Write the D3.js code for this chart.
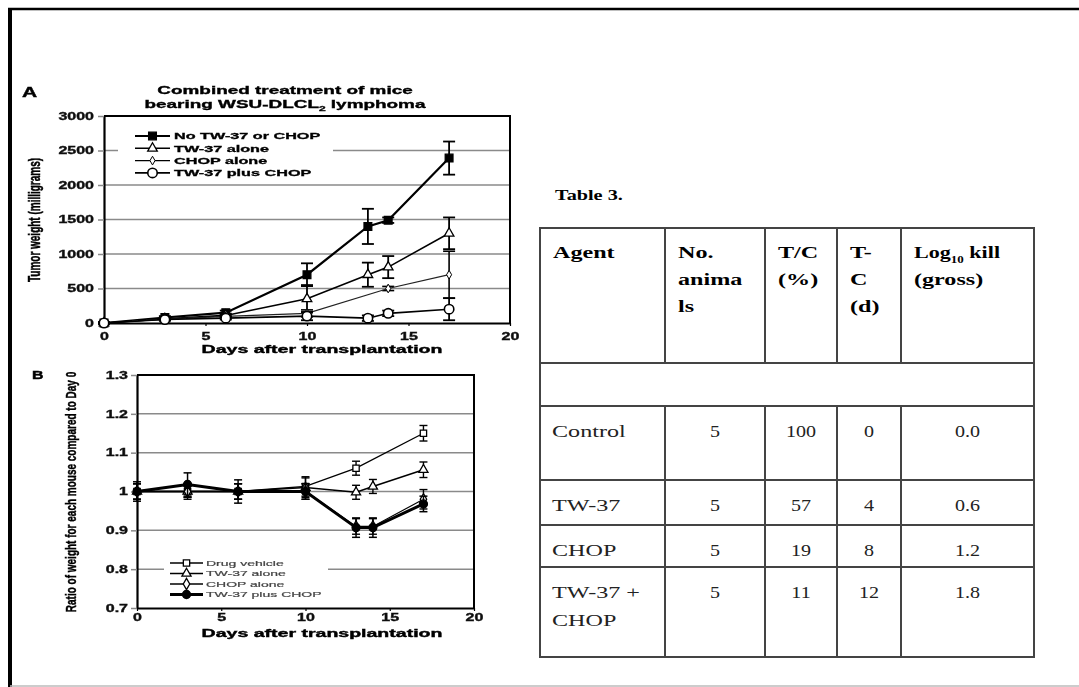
<!DOCTYPE html>
<html>
<head>
<meta charset="utf-8">
<script src="https://cdn.jsdelivr.net/npm/d3@7"></script>
<style>
  body { margin: 0; background: #fff; }
  svg { display: block; }
</style>
</head>
<body>
<svg id="fig" width="1079" height="687"></svg>
<script>
// ---------- Panel A: tumor weight (mg) ----------
const tumorDays = [0, 3, 6, 10, 13, 14, 17];
const tumorNoTreatment = [0, 80, 150, 700, 1400, 1490, 2390];
const tumorNoTreatmentErr = [10, 20, 30, 165, 255, 40, 240];
const tumorTW37 = [0, 60, 110, 350, 700, 810, 1300];
const tumorTW37Err = [10, 15, 25, 200, 175, 160, 230];
const tumorCHOPDays = [0, 3, 6, 10, 14, 17];
const tumorCHOP = [0, 55, 95, 140, 500, 700];
const tumorCHOPErr = [10, 15, 20, 50, 30, 340];
const tumorCombo = [0, 50, 70, 100, 70, 140, 200];
const tumorComboErr = [10, 15, 20, 60, 40, 40, 160];

const tumorYTicks = [0, 500, 1000, 1500, 2000, 2500, 3000];
const tumorYLabels = ["0", "500", "1000", "1500", "2000", "2500", "3000"];
const dayTicks = [0, 5, 10, 15, 20];
const dayLabels = ["0", "5", "10", "15", "20"];

// ---------- Panel B: body weight ratio ----------
const weightDays = [0, 3, 6, 10, 13, 14, 17];
const weightVehicleDays = [0, 3, 6, 10, 13, 17];
const weightVehicle = [1.0, 1.0, 1.0, 1.013, 1.06, 1.15];
const weightVehicleErr = [0.02, 0.015, 0.02, 0.025, 0.018, 0.02];
const weightTW37 = [1.0, 1.0, 1.0, 1.01, 0.998, 1.013, 1.056];
const weightTW37Err = [0.02, 0.015, 0.02, 0.025, 0.018, 0.018, 0.02];
const weightCHOP = [1.0, 1.0, 1.0, 1.0, 0.91, 0.91, 0.98];
const weightCHOPErr = [0.02, 0.02, 0.02, 0.02, 0.02, 0.02, 0.025];
const weightCombo = [1.0, 1.018, 1.0, 1.0, 0.907, 0.907, 0.968];
const weightComboErr = [0.025, 0.03, 0.03, 0.02, 0.025, 0.025, 0.02];

const weightYTicks = [0.7, 0.8, 0.9, 1.0, 1.1, 1.2, 1.3];
const weightYLabels = ["0.7", "0.8", "0.9", "1", "1.1", "1.2", "1.3"];

// ---------- Table 3 ----------
const tableHeaders = [["Agent"], ["No.", "anima", "ls"], ["T/C", "(%)"], ["T-", "C", "(d)"], ["Log|10| kill", "(gross)"]];
const tableAgents = [["Control"], ["TW-37"], ["CHOP"], ["TW-37 +", "CHOP"]];
const tableAnimals = ["5", "5", "5", "5"];
const tableTC = ["100", "57", "19", "11"];
const tableTminusC = ["0", "4", "8", "12"];
const tableLogKill = ["0.0", "0.6", "1.2", "1.8"];

const SANS = "'Liberation Sans', Arial, Helvetica, sans-serif";
const SERIF = "'Liberation Serif', 'Times New Roman', serif";
const svg = d3.select("#fig");

svg.append("rect").attr("width", 1079).attr("height", 687).attr("fill", "#fff");

// soft rendering for the two graph panels
svg.append("defs").append("filter").attr("id", "soft")
  .attr("x", "-5%").attr("y", "-5%").attr("width", "110%").attr("height", "110%")
  .append("feGaussianBlur").attr("stdDeviation", 0.45);

const charts = svg.append("g").attr("filter", "url(#soft)");

// Text helper: glyphs are drawn wide (horizontal stretch k)
function label(parent, x, y, str, o = {}) {
  const k = o.k ?? 1.6;
  const tf = o.rot
    ? `translate(${x},${y}) rotate(${o.rot}) scale(1,${k})`
    : `translate(${x},${y}) scale(${k},1)`;
  const t = parent.append("text")
    .attr("transform", tf)
    .attr("text-anchor", o.anchor || "start")
    .attr("font-family", o.family || SANS)
    .attr("font-size", o.size || 10)
    .attr("font-weight", o.weight || "bold")
    .attr("fill", o.fill || "#000")
    .text(str);
  if (o.heavy) t.attr("stroke", o.fill || "#000").attr("stroke-width", o.heavy);
  return t;
}

function symbolPath(type, size) {
  const t = { square: d3.symbolSquare, triangle: d3.symbolTriangle, diamond: d3.symbolDiamond, circle: d3.symbolCircle }[type];
  return d3.symbol().type(t).size(size)();
}

function drawMarker(parent, m, x, y) {
  parent.append("path")
    .attr("d", symbolPath(m.shape, m.size))
    .attr("transform", `translate(${x},${y})`)
    .attr("fill", m.filled ? "#000" : "#fff")
    .attr("stroke", "#000")
    .attr("stroke-width", m.sw || 1.3);
}

// Generic line chart panel with error bars and a legend
function panel(p) {
  const g = charts.append("g");
  const x = d3.scaleLinear().domain([0, 20]).range(p.xRange);
  const y = d3.scaleLinear().domain(p.yDomain).range(p.yRange);
  const [x0, x1] = p.xRange, [yb, yt] = p.yRange;

  // horizontal gridlines
  g.append("g").selectAll("line").data(p.yTicks.slice(1, -1)).join("line")
    .attr("x1", x0).attr("x2", x1)
    .attr("y1", d => y(d)).attr("y2", d => y(d))
    .attr("stroke", "#8a8a8a").attr("stroke-width", 1.5);

  // y axis
  const ay = g.append("g").attr("transform", `translate(${x0},0)`)
    .call(d3.axisLeft(y).tickValues(p.yTicks).tickFormat((d, i) => p.yLabels[i]).tickSize(6).tickSizeOuter(0));
  ay.select(".domain").attr("stroke", "#000").attr("stroke-width", 2.2);
  ay.selectAll(".tick line").attr("stroke", "#8a8a8a").attr("stroke-width", 1.5);
  ay.selectAll(".tick text")
    .attr("x", -p.yLabelGap / p.k).attr("transform", `scale(${p.k},1)`)
    .attr("font-family", SANS).attr("font-size", 10).attr("font-weight", "bold")
    .attr("fill", "#111").attr("stroke", "#111").attr("stroke-width", 0.35);

  // x axis
  const ax = g.append("g").attr("transform", `translate(0,${yb})`)
    .call(d3.axisBottom(x).tickValues(dayTicks).tickFormat((d, i) => dayLabels[i]).tickSize(3).tickSizeOuter(0));
  ax.select(".domain").attr("stroke", "#000").attr("stroke-width", 2.2);
  ax.selectAll(".tick line").attr("stroke", "#000").attr("stroke-width", 1.2);
  ax.selectAll(".tick text")
    .attr("y", p.xLabelGap).attr("transform", `scale(${p.k},1)`)
    .attr("font-family", SANS).attr("font-size", 10).attr("font-weight", "bold")
    .attr("fill", "#111").attr("stroke", "#111").attr("stroke-width", 0.35);

  // top and right frame
  g.append("path").attr("d", `M${x0},${yt}H${x1}V${yb}`)
    .attr("fill", "none").attr("stroke", "#000").attr("stroke-width", 2);

  // legend
  const L = p.legend;
  g.append("rect").attr("x", L.box[0]).attr("y", L.box[1]).attr("width", L.box[2]).attr("height", L.box[3]).attr("fill", "#fff");
  p.series.forEach((s, i) => {
    const ly = L.y0 + i * L.dy;
    g.append("line").attr("x1", L.x0).attr("x2", L.x1).attr("y1", ly).attr("y2", ly)
      .attr("stroke", "#000").attr("stroke-width", s.lw);
    drawMarker(g, s.marker, (L.x0 + L.x1) / 2, ly);
    label(g, L.tx, ly + L.size * 0.36, s.name, { size: L.size, weight: L.weight, k: L.k, fill: L.fill, heavy: L.heavy });
  });

  // series: error bars, lines, markers
  p.series.forEach(s => {
    const pts = s.days.map((d, i) => ({ d, v: s.values[i], e: s.errors[i] }));
    const eg = g.append("g").attr("stroke", "#000").attr("stroke-width", s.ew);
    pts.forEach(q => {
      const cx = x(q.d), hi = y(q.v + q.e), lo = y(q.v - q.e);
      eg.append("line").attr("x1", cx).attr("x2", cx).attr("y1", hi).attr("y2", lo);
      eg.append("line").attr("x1", cx - p.cap).attr("x2", cx + p.cap).attr("y1", hi).attr("y2", hi);
      eg.append("line").attr("x1", cx - p.cap).attr("x2", cx + p.cap).attr("y1", lo).attr("y2", lo);
    });
    g.append("path").datum(pts)
      .attr("d", d3.line().x(q => x(q.d)).y(q => y(q.v)))
      .attr("fill", "none").attr("stroke", s.color || "#000").attr("stroke-width", s.lw);
    pts.forEach(q => drawMarker(g, s.marker, x(q.d), y(q.v)));
  });
  return { g, x, y };
}

// ---------- Panel A ----------
panel({
  xRange: [104, 510], yDomain: [0, 3000], yRange: [323, 116],
  yTicks: tumorYTicks, yLabels: tumorYLabels, k: 1.6, yLabelGap: 10, xLabelGap: 10, cap: 6,
  legend: { box: [118, 127, 215, 52], x0: 135, x1: 170, y0: 136, dy: 12.3, tx: 174, size: 9, weight: "bold", k: 1.8, fill: "#000", heavy: 0.3 },
  series: [
    { name: "No TW-37 or CHOP", days: tumorDays, values: tumorNoTreatment, errors: tumorNoTreatmentErr, lw: 2.2, ew: 1.8,
      marker: { shape: "square", size: 60, filled: true } },
    { name: "TW-37 alone", days: tumorDays, values: tumorTW37, errors: tumorTW37Err, lw: 1.6, ew: 1.8,
      marker: { shape: "triangle", size: 40, filled: false } },
    { name: "CHOP alone", days: tumorCHOPDays, values: tumorCHOP, errors: tumorCHOPErr, lw: 1.2, ew: 1.6, color: "#222",
      marker: { shape: "diamond", size: 22, filled: false, sw: 1 } },
    { name: "TW-37 plus CHOP", days: tumorDays, values: tumorCombo, errors: tumorComboErr, lw: 1.6, ew: 1.8,
      marker: { shape: "circle", size: 70, filled: false, sw: 1.6 } }
  ]
});

// ---------- Panel B ----------
panel({
  xRange: [137, 474], yDomain: [0.7, 1.3], yRange: [608, 375],
  yTicks: weightYTicks, yLabels: weightYLabels, k: 1.6, yLabelGap: 9, xLabelGap: 6, cap: 4,
  legend: { box: [164, 556, 164, 45], x0: 170, x1: 203, y0: 563, dy: 10.5, tx: 206, size: 8, weight: "normal", k: 1.75, fill: "#444", heavy: 0.2 },
  series: [
    { name: "Drug vehicle", days: weightVehicleDays, values: weightVehicle, errors: weightVehicleErr, lw: 1.3, ew: 1.4,
      marker: { shape: "square", size: 40, filled: false } },
    { name: "TW-37 alone", days: weightDays, values: weightTW37, errors: weightTW37Err, lw: 1.5, ew: 1.4,
      marker: { shape: "triangle", size: 36, filled: false } },
    { name: "CHOP alone", days: weightDays, values: weightCHOP, errors: weightCHOPErr, lw: 1.3, ew: 1.4,
      marker: { shape: "diamond", size: 36, filled: false } },
    { name: "TW-37 plus CHOP", days: weightDays, values: weightCombo, errors: weightComboErr, lw: 3, ew: 1.5,
      marker: { shape: "circle", size: 50, filled: true } }
  ]
});

// Panel titles and axis titles
label(charts, 22, 97, "A", { size: 14, k: 1.5, heavy: 0.4 });
label(charts, 32, 379, "B", { size: 11, k: 1.45, heavy: 0.4 });

label(charts, 285, 94, "Combined treatment of mice", { size: 11, k: 1.72, anchor: "middle", heavy: 0.35 });
const t2 = label(charts, 285, 108, "bearing WSU-DLCL", { size: 11, k: 1.72, anchor: "middle", heavy: 0.35 });
t2.append("tspan").attr("font-size", 7).attr("dy", 3).text("2");
t2.append("tspan").attr("dy", -3).text(" lymphoma");

label(charts, 40, 220, "Tumor weight (milligrams)", { size: 10, k: 1.6, rot: -90, anchor: "middle", heavy: 0.3 });
label(charts, 76, 492, "Ratio of weight for each mouse compared to Day 0", { size: 10, k: 1.5, rot: -90, anchor: "middle", heavy: 0.3 });
label(charts, 322, 353, "Days after transplantation", { size: 11.5, k: 1.7, anchor: "middle", heavy: 0.4 });
label(charts, 322, 637, "Days after transplantation", { size: 11.5, k: 1.7, anchor: "middle", heavy: 0.4 });

// ---------- Table 3 ----------
const T = svg.append("g");
const cols = [540, 665, 765, 837, 901, 1034];
const rows = [228, 363, 406, 480, 525, 567, 657];
const tk = 1.42;
label(T, 555, 200, "Table 3.", { family: SERIF, size: 15, k: 1.35, weight: "bold" });

const grid = T.append("g").attr("stroke", "#444").attr("stroke-width", 2).attr("fill", "none");
grid.append("rect").attr("x", cols[0]).attr("y", rows[0]).attr("width", cols[5] - cols[0]).attr("height", rows[6] - rows[0]);
rows.slice(1, -1).forEach(r => grid.append("line").attr("x1", cols[0]).attr("x2", cols[5]).attr("y1", r).attr("y2", r));
cols.slice(1, -1).forEach(c => {
  [[rows[0], rows[1]], [rows[2], rows[6]]].forEach(([a, b]) =>
    grid.append("line").attr("x1", c).attr("x2", c).attr("y1", a).attr("y2", b));
});

// header cells
tableHeaders.forEach((lines, ci) => {
  lines.forEach((ln, li) => {
    const tx = cols[ci] + 13, ty = 258 + li * 27;
    if (ln.includes("|")) {
      const [pre, sub, post] = ln.split("|");
      const t = label(T, tx, ty, pre, { family: SERIF, size: 17, k: 1.3, weight: "bold" });
      t.append("tspan").attr("font-size", 10).attr("dy", 5).text(sub);
      t.append("tspan").attr("dy", -5).text(post);
    } else {
      label(T, tx, ty, ln, { family: SERIF, size: 17, k: tk, weight: "bold" });
    }
  });
});

// body cells
const bodyTops = rows.slice(2, 6);
tableAgents.forEach((lines, ri) => {
  const base = bodyTops[ri] + 31;
  lines.forEach((ln, li) => label(T, cols[0] + 12, base + li * 28, ln, { family: SERIF, size: 17, k: tk, weight: "normal", fill: "#222" }));
  [tableAnimals, tableTC, tableTminusC, tableLogKill].forEach((col, ci) => {
    label(T, (cols[ci + 1] + cols[ci + 2]) / 2, base, col[ri], { family: SERIF, size: 17, k: 1.18, weight: "normal", anchor: "middle", fill: "#222" });
  });
});

// ---------- outer frame ----------
svg.append("line").attr("x1", 8).attr("x2", 1079).attr("y1", 9).attr("y2", 9).attr("stroke", "#000").attr("stroke-width", 2.5);
svg.append("line").attr("x1", 10).attr("x2", 10).attr("y1", 8).attr("y2", 687).attr("stroke", "#000").attr("stroke-width", 4);
svg.append("line").attr("x1", 10).attr("x2", 1079).attr("y1", 686).attr("y2", 686).attr("stroke", "#bbb").attr("stroke-width", 1.5);
</script>
</body>
</html>
